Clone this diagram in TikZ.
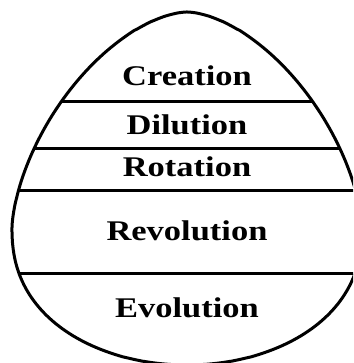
\documentclass[tikz,border=0pt]{standalone}
\usepackage{fontspec}
\setmainfont{Liberation Serif}
\usepackage{graphicx}
\begin{document}
\begin{tikzpicture}[x=1pt,y=1pt,
  declare function={
    up(\t)=175*pow(max(1-pow(max(sin(\t),0.0001),1.6),0.000001),0.6);
    lo(\t)=175*pow(max(1-pow(max(sin(\t),0.0001),2.3),0.000001),0.5);
  },
  eggline/.style={line width=3pt,black,line join=round},
  divline/.style={line width=3pt,black},
  label/.style={font=\bfseries\fontsize{28.5}{30}\selectfont,anchor=base,inner sep=0pt}]
\useasboundingbox (0,0) rectangle (353,363);
\def\eggpath{plot[domain=90:0,samples=80,variable=\t] ({187+up(\t)},{135+216*sin(\t)})
 -- plot[domain=0:90,samples=60,variable=\t] ({187+lo(\t)},{135-137*sin(\t)})
 -- plot[domain=90:0,samples=60,variable=\t] ({187-lo(\t)},{135-137*sin(\t)})
 -- plot[domain=0:90,samples=80,variable=\t] ({187-up(\t)},{135+216*sin(\t)}) -- cycle}
\begin{scope}
\clip (0,0) rectangle (353,363);
\begin{scope}
\clip \eggpath;
\coordinate (l1a) at (0,261); \coordinate (l1b) at (370,261);
\coordinate (l2a) at (0,214); \coordinate (l2b) at (370,214);
\coordinate (l3a) at (0,172); \coordinate (l3b) at (370,172);
\coordinate (l4a) at (0,89);  \coordinate (l4b) at (370,89);
\draw[divline] (l1a) -- (l1b);
\draw[divline] (l2a) -- (l2b);
\draw[divline] (l3a) -- (l3b);
\draw[divline] (l4a) -- (l4b);
\end{scope}
\draw[eggline] \eggpath;
\end{scope}
\node[label] (creation) at (187,277.3) {\scalebox{1.21}[1]{Creation}};
\node[label] (dilution) at (187,228) {\scalebox{1.21}[1]{Dilution}};
\node[label] (rotation) at (187,186) {\scalebox{1.21}[1]{Rotation}};
\node[label] (revolution) at (187,122.3) {\scalebox{1.21}[1]{Revolution}};
\node[label] (evolution) at (187,45) {\scalebox{1.21}[1]{Evolution}};
\end{tikzpicture}
\end{document}
